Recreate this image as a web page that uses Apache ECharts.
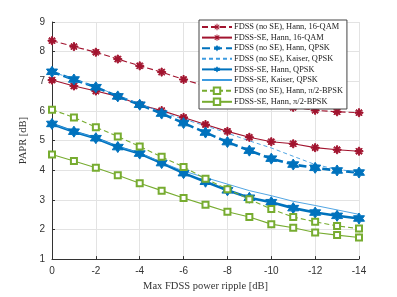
<!DOCTYPE html>
<html><head><meta charset="utf-8">
<script src="https://cdn.jsdelivr.net/npm/echarts@6/dist/echarts.min.js"></script>
<style>html,body{margin:0;padding:0;background:#fff}#c{width:397px;height:297px}</style>
</head><body><div id="c"></div>
<script>
const xValues = [0,-1,-2,-3,-4,-5,-6,-7,-8,-9,-10,-11,-12,-13,-14];
const noSeHann16QAM = [8.37,8.17,7.98,7.75,7.52,7.31,7.06,6.84,6.63,6.44,6.27,6.12,6.02,5.97,5.94];
const seHann16QAM   = [7.04,6.84,6.67,6.49,6.21,6.01,5.78,5.54,5.31,5.11,4.96,4.89,4.76,4.69,4.64];
const noSeHannQPSK  = [7.32,7.06,6.80,6.49,6.21,5.91,5.59,5.27,4.95,4.66,4.39,4.19,4.08,3.99,3.92];
const noSeKaiserQPSK= [7.32,7.07,6.81,6.52,6.24,5.96,5.72,5.50,5.25,4.99,4.75,4.47,4.19,4.03,3.93];
const seHannQPSK    = [5.56,5.30,5.08,4.78,4.56,4.24,3.90,3.61,3.32,3.07,2.92,2.72,2.57,2.46,2.37];
const seKaiserQPSK  = [5.57,5.31,5.09,4.80,4.58,4.26,3.97,3.75,3.53,3.31,3.14,2.95,2.81,2.66,2.51];
const noSeHannBPSK  = [6.04,5.78,5.45,5.14,4.80,4.45,4.11,3.71,3.36,3.02,2.69,2.42,2.26,2.12,2.03];
const seHannBPSK    = [4.53,4.31,4.08,3.83,3.56,3.31,3.06,2.83,2.60,2.42,2.18,2.06,1.90,1.81,1.73];
const names = ['FDSS (no SE), Hann, 16-QAM','FDSS-SE, Hann, 16-QAM','FDSS (no SE), Hann, QPSK','FDSS (no SE), Kaiser, QPSK','FDSS-SE, Hann, QPSK','FDSS-SE, Kaiser, QPSK','FDSS (no SE), Hann, π/2-BPSK','FDSS-SE, Hann, π/2-BPSK'];

const RED='#A2142F', BLUE='#0072BD', LBLUE='#3D9BE0', GREEN='#77AC30';
const AST='path://M-10 -1.5L10 -1.5L10 1.5L-10 1.5Z M-1.5 -10L1.5 -10L1.5 10L-1.5 10Z M-6 -8.1L8.1 6L6 8.1L-8.1 -6Z M6 -8.1L8.1 -6L-6 8.1L-8.1 6Z';
const HEX='path://M0 -10L2.89 -5L8.66 -5L5.77 0L8.66 5L2.89 5L0 10L-2.89 5L-8.66 5L-5.77 0L-8.66 -5L-2.89 -5Z';

function pts(arr){return xValues.map((x,i)=>[x,arr[i]]);}
function ser(name,arr,color,width,type,symbol,size){
  return {name:name,type:'line',data:pts(arr),showSymbol:symbol!=='none',symbol:symbol,symbolSize:size,
    lineStyle:{color:color,width:width,type:type},itemStyle:{color:color,borderColor:color},
    emphasis:{disabled:true},animation:false};
}
const series=[
  ser(names[0],noSeHann16QAM,RED,1.1,[6,3],AST,8),
  ser(names[1],seHann16QAM,RED,1.1,'solid',AST,8),
  ser(names[2],noSeHannQPSK,BLUE,2.6,[8,4],HEX,11),
  ser(names[3],noSeKaiserQPSK,LBLUE,0.9,[4,3],'none',0),
  ser(names[4],seHannQPSK,BLUE,2.6,'solid',HEX,11),
  ser(names[5],seKaiserQPSK,LBLUE,0.9,'solid','none',0),
  ser(names[6],noSeHannBPSK,GREEN,1.1,[5,3],'emptyRect',6),
  ser(names[7],seHannBPSK,GREEN,1.1,'solid','emptyRect',6)
];
const legendData = names.map((n,i)=> (i===3||i===5) ? {name:n,itemStyle:{opacity:0}} : {name:n});
const chart=echarts.init(document.getElementById('c'),null,{renderer:'canvas'});
chart.setOption({
  animation:false,
  backgroundColor:'#fff',
  grid:{left:52,right:38,top:22,bottom:34,containLabel:false},
  xAxis:{type:'value',min:-14,max:0,interval:2,inverse:true,
    name:'Max FDSS power ripple [dB]',nameLocation:'middle',nameGap:21,
    nameTextStyle:{fontFamily:'Liberation Serif',fontSize:10.5,color:'#333'},
    axisLine:{lineStyle:{color:'#333',width:1}},
    axisTick:{inside:true,length:3,lineStyle:{color:'#333'}},
    axisLabel:{fontFamily:'Liberation Sans',fontSize:10,color:'#333',margin:7},
    splitLine:{show:true,lineStyle:{color:'#e3e3e3',width:1}}},
  yAxis:{type:'value',min:1,max:9,interval:1,
    name:'PAPR [dB]',nameLocation:'middle',nameGap:22,nameRotate:90,
    nameTextStyle:{fontFamily:'Liberation Serif',fontSize:10.5,color:'#333'},
    axisLine:{show:true,lineStyle:{color:'#333',width:1}},
    axisTick:{show:true,inside:true,length:3,lineStyle:{color:'#333'}},
    axisLabel:{fontFamily:'Liberation Sans',fontSize:10,color:'#333',margin:7},
    splitLine:{show:true,lineStyle:{color:'#e3e3e3',width:1}}},
  legend:{orient:'vertical',left:199,top:20,itemWidth:30,itemHeight:8,itemGap:2.6,
    padding:[3,4,3,2],backgroundColor:'#fff',borderColor:'#444',borderWidth:1,borderRadius:0,
    textStyle:{fontFamily:'Liberation Serif',fontSize:8.4,color:'#222',padding:[0,0,0,-3]},
    data:legendData},
  series:series
});
</script></body></html>
